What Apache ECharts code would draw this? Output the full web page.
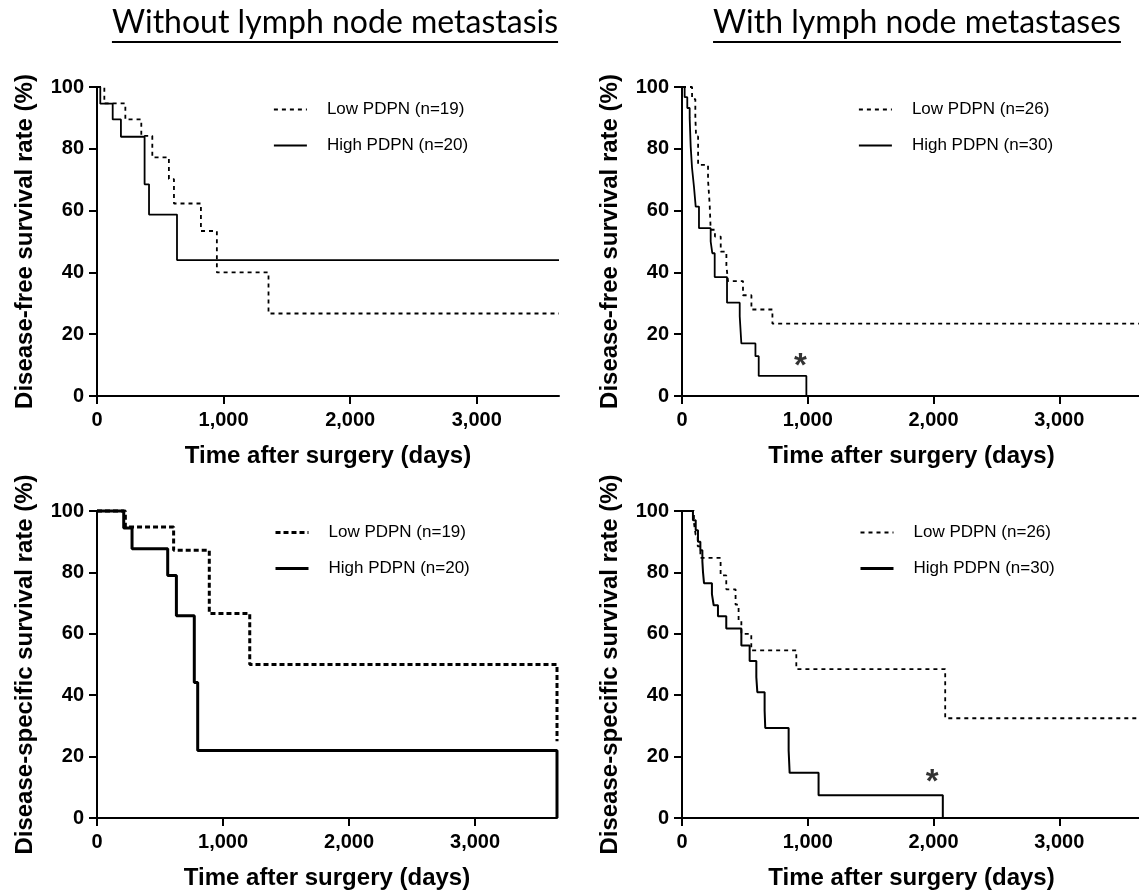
<!DOCTYPE html>
<html>
<head>
<meta charset="UTF-8">
<title>PDPN survival</title>
<script src="https://cdn.jsdelivr.net/npm/echarts@6/dist/echarts.min.js"></script>
</head>
<body style="margin:0;background:#fff;">
<div id="container" style="width:1139px;height:892px;"></div>
<script>
// column titles
var colTitles = ['Without lymph node metastasis', 'With lymph node metastases'];
var yNames = ['Disease-free survival rate (%)', 'Disease-specific survival rate (%)'];
var xName = 'Time after surgery (days)';
var xTicks = [0, 1000, 2000, 3000];
var legendNoLn = ['Low PDPN (n=19)', 'High PDPN (n=20)'];
var legendLn = ['Low PDPN (n=26)', 'High PDPN (n=30)'];

// [day, survival %] — step curves
var dfsNoLnLow = [[0,100],[58,94.7],[224,89.5],[350,84.2],[437,77.2],[568,70.2],[608,62.3],[821,53.4],[947,40.0],[1355,26.7],[3650,26.7]];
var dfsNoLnHigh = [[0,100],[26,94.6],[124,89.5],[189,83.9],[376,68.5],[411,58.7],[632,44.0],[3650,44.0]];
var dfsLnLow = [[0,100],[80,96.1],[106,90.5],[112,84.0],[128,74.8],[207,69.9],[220,62.0],[228,53.8],[262,51.6],[308,46.7],[353,42.2],[366,37.2],[485,32.6],[552,28.0],[719,23.4],[3650,23.4]];
var dfsLnHigh = [[0,100],[21,96.7],[42,93.2],[61,90.0],[69,80.8],[80,73.7],[95,67.8],[109,61.3],[135,54.3],[228,50.0],[241,46.2],[260,38.5],[358,30.2],[459,25.8],[472,17.0],[584,12.9],[610,6.5],[989,0]];
var dssNoLnLow = [[0,100],[225,94.8],[608,87.2],[891,66.6],[1212,50.0],[3650,25.0]];
var dssNoLnHigh = [[0,100],[212,94.5],[278,87.7],[561,79.0],[630,65.9],[772,44.1],[799,22.0],[3650,0]];
var dssLnLow = [[0,100],[95,96.2],[108,92.3],[125,88.5],[146,84.7],[307,79.0],[352,74.5],[426,69.5],[450,64.4],[472,60.0],[551,54.6],[909,48.5],[2093,32.5],[3650,32.5]];
var dssLnHigh = [[0,100],[87,97.0],[109,93.7],[127,90.0],[146,87.2],[162,83.6],[167,80.1],[175,76.5],[238,72.9],[252,69.3],[286,65.7],[352,61.7],[472,56.2],[538,51.1],[591,45.9],[599,41.0],[657,35.0],[662,29.3],[848,22.0],[856,14.7],[1086,7.4],[2074,0]];
// significance marks
var starDfs = [[942, 12.1]];
var starDss = [[1990, 13.9]];

var dom = document.getElementById('container');
var myChart = echarts.init(dom);

var grids = [
  {left: 97, top: 87, width: 462, height: 309},
  {left: 682, top: 87, width: 459, height: 309},
  {left: 97, top: 511, width: 460, height: 307},
  {left: 682, top: 511, width: 459, height: 307}
];

function xAxisFor(i) {
  return {
    type: 'value', gridIndex: i, min: 0, max: 3650,
    name: xName, nameLocation: 'middle', nameGap: 48,
    nameTextStyle: {fontFamily: 'Liberation Sans', fontWeight: 'bold', fontSize: 24, color: '#000'},
    axisLine: {lineStyle: {color: '#000', width: 2}},
    axisTick: {length: 8, lineStyle: {color: '#000', width: 2}, customValues: xTicks},
    axisLabel: {
      customValues: xTicks, margin: 14, color: '#000',
      fontFamily: 'Liberation Sans', fontWeight: 'bold', fontSize: 20,
      formatter: function (v) { return v.toLocaleString('en-US'); }
    },
    splitLine: {show: false}
  };
}
function yAxisFor(i) {
  return {
    type: 'value', gridIndex: i, min: 0, max: 100, interval: 20,
    name: yNames[i < 2 ? 0 : 1], nameLocation: 'middle', nameGap: 60,
    nameTextStyle: {fontFamily: 'Liberation Sans', fontWeight: 'bold', fontSize: 24, color: '#000'},
    axisLine: {show: true, lineStyle: {color: '#000', width: 2}},
    axisTick: {show: true, length: 8, lineStyle: {color: '#000', width: 2}},
    axisLabel: {margin: 13, color: '#000', fontFamily: 'Liberation Sans', fontWeight: 'bold', fontSize: 20},
    splitLine: {show: false}
  };
}
function curve(name, i, data, width, dash) {
  return {
    type: 'line', name: name, xAxisIndex: i, yAxisIndex: i, data: data,
    step: 'end', symbol: 'none', showSymbol: false, clip: false, animation: false,
    lineStyle: {color: '#000', width: width, type: dash || 'solid'},
    itemStyle: {color: '#000'}
  };
}
function star(i, data) {
  return {
    type: 'scatter', xAxisIndex: i, yAxisIndex: i, data: data,
    symbolSize: 0, silent: true, animation: false,
    label: {show: true, position: 'inside', formatter: '*', offset: [0, 8],
      color: '#000', fontFamily: 'Liberation Sans', fontWeight: 'bold', fontSize: 33}
  };
}
function legendFor(names, left, top, styles) {
  return {
    orient: 'vertical', left: left, top: top, padding: 0,
    itemWidth: 33, itemHeight: 14, itemGap: 19,
    itemStyle: {color: 'rgba(0,0,0,0)', borderWidth: 0, opacity: 0},
    textStyle: {fontFamily: 'Liberation Sans', fontSize: 17, color: '#000', padding: [0, 0, 0, 15]},
    data: names.map(function (n, k) {
      return {name: n, lineStyle: styles[k], itemStyle: {color: 'rgba(0,0,0,0)', borderWidth: 0, opacity: 0}};
    }),
    selectedMode: false
  };
}

var thin = 1.8, thick = 3;
var option = {
  backgroundColor: '#fff',
  animation: false,
  grid: grids.map(function (g) { return Object.assign({outerBoundsMode: 'none'}, g); }),
  xAxis: [0, 1, 2, 3].map(xAxisFor),
  yAxis: [0, 1, 2, 3].map(yAxisFor),
  legend: [
    legendFor(legendNoLn, 273, 101, [{color: '#000', width: thin, type: [4, 4]}, {color: '#000', width: thin, type: 'solid'}]),
    legendFor(legendLn, 858, 101, [{color: '#000', width: thin, type: [4, 4]}, {color: '#000', width: thin, type: 'solid'}]),
    legendFor(legendNoLn, 274, 524, [{color: '#000', width: thick, type: [5, 3]}, {color: '#000', width: thick, type: 'solid'}]),
    legendFor(legendLn, 859, 524, [{color: '#000', width: thin, type: [4, 4]}, {color: '#000', width: thick, type: 'solid'}])
  ],
  series: [
    curve(legendNoLn[0], 0, dfsNoLnLow, thin, [4, 4]),
    curve(legendNoLn[1], 0, dfsNoLnHigh, thin),
    curve(legendLn[0], 1, dfsLnLow, thin, [4, 4]),
    curve(legendLn[1], 1, dfsLnHigh, thin),
    curve(legendNoLn[0], 2, dssNoLnLow, thick, [5, 3]),
    curve(legendNoLn[1], 2, dssNoLnHigh, thick),
    curve(legendLn[0], 3, dssLnLow, thin, [4, 4]),
    curve(legendLn[1], 3, dssLnHigh, 2),
    star(1, starDfs),
    star(3, starDss)
  ]
};

// underlined column titles
var titleFont = '32px Lato';
var ctx = document.createElement('canvas').getContext('2d');
ctx.font = titleFont;
var titleCx = [335, 917];
option.graphic = [];
colTitles.forEach(function (t, k) {
  var w = ctx.measureText(t).width;
  option.graphic.push({
    type: 'text', x: titleCx[k], y: 23, silent: true,
    style: {text: t, font: titleFont, fill: '#000', align: 'center', verticalAlign: 'middle'}
  });
  option.graphic.push({
    type: 'line', silent: true,
    shape: {x1: titleCx[k] - w / 2, y1: 42, x2: titleCx[k] + w / 2, y2: 42},
    style: {stroke: '#000', lineWidth: 2}
  });
});

if (option && typeof option === 'object') {
  myChart.setOption(option);
}
</script>
</body>
</html>
